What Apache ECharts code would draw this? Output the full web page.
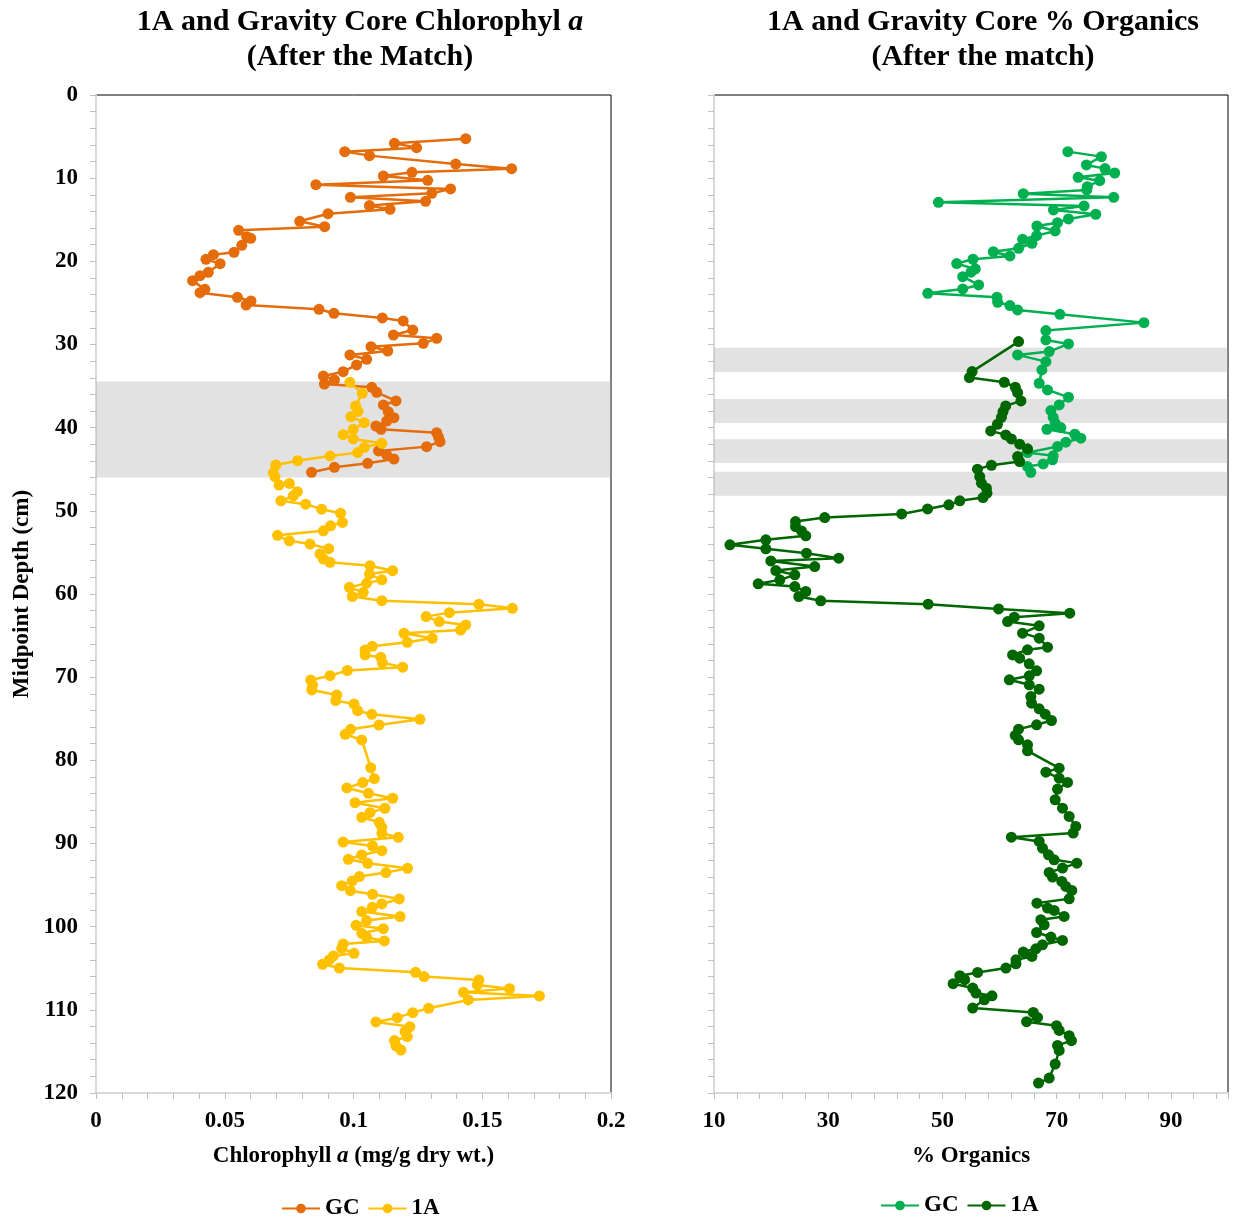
<!DOCTYPE html>
<html>
<head>
<meta charset="utf-8">
<title>1A and Gravity Core</title>
<script src="https://cdn.jsdelivr.net/npm/echarts@6/dist/echarts.min.js"></script>
<style>
  html, body { margin: 0; padding: 0; background: #fff; }
  #main { width: 1238px; height: 1222px; }
</style>
</head>
<body>
<div id="main"></div>
<script>
// ---- data ----
// left: chlorophyll a (mg/g dry wt.) vs depth (cm)
var gcChlDepth = [5.25, 5.81, 6.33, 6.81, 7.29, 8.3, 8.86, 9.3, 9.74, 10.26, 10.78, 11.3, 11.82, 12.3, 12.78, 13.3, 13.75, 14.27, 15.19, 15.83,
    16.27, 17.03, 17.23, 18.07, 18.92, 19.2, 19.76, 20.28, 21.32, 21.72, 22.32, 23.37, 23.77, 24.33, 24.77, 25.25, 25.77, 26.25, 26.81, 27.17,
    28.26, 28.86, 29.26, 29.86, 30.26, 30.78, 31.26, 31.78, 32.46, 33.27, 33.79, 34.27, 34.75, 35.15, 35.75, 36.79, 37.27, 38.08, 38.8, 39.2,
    39.8, 40.2, 40.6, 41.1, 41.68, 42.28, 42.8, 43.28, 43.77, 44.29, 44.77, 45.37];
var gcChl = [0.1436, 0.1159, 0.1245, 0.0966, 0.1062, 0.1397, 0.1614, 0.1227, 0.1116, 0.1288, 0.0854, 0.1377, 0.1304, 0.0988, 0.128, 0.1062, 0.1142, 0.0901, 0.0791, 0.0888,
    0.0554, 0.0585, 0.0601, 0.0566, 0.0536, 0.0456, 0.0427, 0.0482, 0.0436, 0.0404, 0.0375, 0.0423, 0.0404, 0.0549, 0.0602, 0.0583, 0.0866, 0.0924, 0.1112, 0.1193,
    0.123, 0.1155, 0.1323, 0.1271, 0.1068, 0.1133, 0.0986, 0.1051, 0.1012, 0.096, 0.0883, 0.0926, 0.0887, 0.1071, 0.109, 0.1165, 0.1116, 0.1135, 0.1157, 0.1129,
    0.1087, 0.1107, 0.1323, 0.133, 0.1336, 0.1284, 0.1097, 0.1129, 0.1157, 0.1055, 0.0926, 0.0837];

var a1ChlDepth = [34.55, 35.87, 37.39, 38.03, 38.68, 39.4, 40.2, 40.84, 41.36, 41.88, 42.36, 43.0, 43.4, 43.97, 44.49, 45.41, 45.9, 46.9, 46.7, 47.7,
    48.2, 48.8, 49.2, 49.8, 50.3, 51.4, 51.8, 52.4, 52.95, 53.6, 54.0, 54.55, 55.19, 55.79, 56.19, 56.6, 57.2, 57.6, 58.3, 58.7,
    59.2, 59.8, 60.3, 60.8, 61.24, 61.72, 62.24, 62.72, 63.32, 63.72, 64.33, 64.73, 65.33, 65.81, 66.29, 66.73, 67.33, 67.61, 68.25, 68.8,
    69.2, 69.82, 70.34, 70.94, 71.54, 72.14, 72.82, 73.22, 74.03, 74.47, 75.07, 75.75, 76.27, 76.87, 77.55, 80.88, 82.2, 82.68, 83.32, 83.96,
    84.56, 85.09, 85.76, 86.29, 86.85, 87.45, 88.05, 88.77, 89.26, 89.82, 90.3, 90.86, 91.38, 91.9, 92.38, 92.98, 93.5, 93.98, 94.5, 95.07,
    95.67, 96.11, 96.67, 97.27, 97.67, 98.19, 98.79, 99.27, 99.84, 100.24, 100.8, 101.28, 101.72, 102.08, 102.6, 103.2, 103.52, 104.0, 104.52, 104.97,
    105.49, 106.0, 106.4, 107.0, 107.45, 107.9, 108.33, 108.81, 109.81, 110.34, 110.94, 111.46, 112.02, 112.62, 113.22, 113.7, 114.34, 114.83];
var a1Chl = [0.0986, 0.1034, 0.1008, 0.1018, 0.099, 0.1042, 0.0999, 0.096, 0.0999, 0.111, 0.1042, 0.1016, 0.0909, 0.0783, 0.0698, 0.0689, 0.0695, 0.0711, 0.0751, 0.0782,
    0.0766, 0.0718, 0.0814, 0.0876, 0.095, 0.0957, 0.0911, 0.0883, 0.0705, 0.0751, 0.0831, 0.0904, 0.087, 0.0883, 0.0909, 0.1064, 0.1152, 0.1062, 0.111, 0.1051,
    0.0984, 0.1038, 0.0995, 0.111, 0.1487, 0.1617, 0.1372, 0.1282, 0.1333, 0.1436, 0.1416, 0.1196, 0.1306, 0.1209, 0.1073, 0.1045, 0.1045, 0.1106, 0.1112, 0.1191,
    0.0976, 0.0909, 0.0834, 0.0841, 0.0838, 0.0935, 0.0931, 0.1002, 0.1016, 0.1071, 0.1258, 0.1099, 0.0989, 0.0968, 0.1032, 0.1067, 0.1081, 0.1036, 0.0974, 0.1058,
    0.1152, 0.1006, 0.1122, 0.1064, 0.1032, 0.11, 0.111, 0.111, 0.1174, 0.096, 0.1074, 0.111, 0.1032, 0.098, 0.1055, 0.121, 0.1126, 0.1023, 0.0995, 0.0954,
    0.0988, 0.1074, 0.1178, 0.111, 0.1073, 0.1032, 0.1181, 0.1051, 0.101, 0.1116, 0.1032, 0.1051, 0.112, 0.096, 0.0954, 0.1002, 0.0922, 0.0906, 0.088, 0.0945,
    0.1241, 0.1274, 0.1487, 0.1481, 0.1606, 0.1427, 0.1722, 0.1446, 0.1292, 0.123, 0.117, 0.1087, 0.1219, 0.12, 0.1209, 0.1159, 0.1165, 0.1184];

// right: % organics vs depth (cm)
var gcOrgDepth = [6.81, 7.41, 8.41, 8.85, 9.38, 9.9, 10.3, 11.02, 11.42, 11.86, 12.3, 12.9, 13.34, 13.82, 14.34, 14.9, 15.35, 15.75, 16.35, 16.91,
    17.35, 17.83, 18.43, 18.84, 19.35, 19.75, 20.27, 20.92, 21.31, 21.84, 22.84, 23.32, 23.84, 24.32, 24.92, 25.32, 25.84, 26.37, 27.37, 28.33,
    29.45, 29.93, 30.85, 31.25, 32.06, 33.06, 34.66, 35.46, 36.34, 37.26, 37.95, 38.75, 39.47, 39.99, 40.19, 40.79, 41.27, 41.75, 42.27, 43.0,
    43.39, 43.87, 44.36, 44.68, 45.36];
var gcOrg = [71.95, 77.83, 75.21, 78.47, 80.16, 73.76, 77.54, 75.38, 75.27, 64.15, 79.99, 49.3, 74.8, 69.44, 76.85, 72.07, 70.15, 66.54, 69.74, 66.5,
    64.03, 65.67, 63.33, 58.91, 61.82, 55.36, 52.5, 55.76, 55.0, 53.55, 56.34, 53.55, 47.43, 59.55, 59.67, 61.82, 63.16, 70.56, 85.28, 68.11,
    68.11, 72.07, 68.69, 63.16, 68.11, 67.41, 66.94, 68.4, 72.07, 70.44, 68.99, 69.39, 69.74, 70.73, 68.29, 73.18, 74.23, 71.61, 70.15, 64.9,
    69.39, 69.27, 67.64, 64.9, 65.48];

var a1OrgDepth = [29.65, 33.26, 33.98, 34.54, 35.14, 35.78, 36.78, 37.38, 38.06, 38.75, 39.59, 40.39, 40.87, 41.35, 41.99, 42.55, 43.47, 44.07, 44.52, 44.99,
    45.88, 46.68, 47.28, 47.88, 48.4, 48.8, 49.28, 49.77, 50.37, 50.81, 51.29, 51.89, 52.41, 53.01, 53.49, 54.09, 54.57, 55.09, 55.69, 56.02,
    56.7, 57.18, 57.7, 58.3, 58.78, 59.1, 59.7, 60.3, 60.82, 61.22, 61.79, 62.31, 62.79, 63.31, 63.83, 64.71, 65.31, 66.39, 66.71, 67.32,
    67.72, 68.4, 69.24, 69.84, 70.32, 70.92, 71.44, 72.33, 73.13, 73.81, 74.45, 75.21, 75.73, 76.25, 77.01, 77.53, 78.13, 78.86, 80.94, 81.42,
    82.14, 82.66, 83.46, 84.74, 85.75, 86.75, 87.95, 88.75, 89.24, 89.75, 90.56, 91.36, 91.96, 92.36, 92.96, 93.48, 94.04, 94.56, 95.16, 95.64,
    96.65, 97.17, 97.77, 98.05, 98.77, 99.17, 99.77, 100.7, 101.25, 101.66, 102.18, 102.66, 103.05, 103.58, 103.98, 104.46, 104.98, 105.5, 105.9, 106.38,
    106.86, 107.38, 107.98, 108.31, 108.79, 109.79, 110.31, 110.91, 111.43, 111.91, 112.48, 113.11, 113.71, 114.28, 114.88, 116.52, 118.2, 118.8];
var a1Org = [63.33, 55.19, 54.72, 60.83, 62.75, 63.16, 63.74, 61.08, 60.61, 60.33, 59.63, 58.46, 61.08, 62.07, 63.52, 64.9, 63.16, 63.52, 58.57, 56.13,
    56.53, 56.83, 57.7, 57.8, 57.1, 53.04, 51.12, 47.4, 42.86, 29.39, 24.27, 24.27, 25.32, 26.07, 19.08, 12.79, 19.08, 26.19, 31.83, 19.95,
    27.64, 20.83, 24.15, 21.53, 17.74, 24.15, 26.07, 24.85, 28.69, 47.5, 59.83, 72.3, 62.58, 61.41, 66.94, 64.03, 66.94, 68.4, 64.9, 62.28,
    63.52, 65.2, 66.49, 65.2, 61.71, 65.2, 66.94, 65.48, 65.6, 66.94, 67.99, 69.09, 66.49, 63.33, 62.75, 63.33, 64.9, 64.9, 70.44, 68.11,
    70.44, 71.9, 70.15, 69.74, 71.02, 72.19, 73.35, 72.89, 62.07, 66.94, 67.52, 68.57, 69.56, 73.53, 71.02, 68.69, 69.27, 70.9, 71.61, 72.65,
    72.19, 66.54, 68.4, 69.56, 71.31, 67.23, 67.81, 66.49, 68.99, 71.02, 67.52, 66.36, 64.15, 65.67, 62.87, 62.87, 61.12, 56.16, 53.04, 53.9,
    51.87, 55.3, 55.88, 58.68, 57.33, 55.3, 65.9, 66.65, 64.73, 69.97, 70.44, 72.19, 72.59, 70.15, 70.44, 69.74, 68.69, 66.82];

// grey match bands (depth from / to)
var chlBandFrom = [34.45];
var chlBandTo = [46.0];
var orgBandFrom = [30.4, 36.55, 41.4, 45.3];
var orgBandTo = [33.3, 39.45, 44.25, 48.2];

// ---- helpers ----
var FONT = "'Liberation Serif', 'Times New Roman', serif";
var FS = 23;    // axis / legend text
var TFS = 30;   // titles

function pairs(xs, ys) {
    var out = [];
    for (var i = 0; i < xs.length; i++) {
        out.push([xs[i], ys[i]]);
    }
    return out;
}

function bands(from, to) {
    var out = [];
    for (var i = 0; i < from.length; i++) {
        out.push([{ yAxis: from[i] }, { yAxis: to[i] }]);
    }
    return out;
}

function lineSeries(name, color, xi, yi, data) {
    return {
        name: name,
        type: 'line',
        xAxisIndex: xi,
        yAxisIndex: yi,
        data: data,
        symbol: 'circle',
        symbolSize: 11,
        showSymbol: true,
        animation: false,
        lineStyle: { color: color, width: 2.5 },
        itemStyle: { color: color },
        z: 2
    };
}

var axisText = { color: '#000', fontFamily: FONT, fontWeight: 'bold', fontSize: FS };
var greyLine = { show: true, onZero: false, lineStyle: { color: '#d9d9d9', width: 2 } };
var greyTick = { show: true, length: 6, lineStyle: { color: '#bfbfbf', width: 1 } };

var titleRich = {
    t: { fontFamily: FONT, fontWeight: 'bold', fontSize: TFS, color: '#000', lineHeight: 35 },
    ti: { fontFamily: FONT, fontWeight: 'bold', fontStyle: 'italic', fontSize: TFS, color: '#000', lineHeight: 35 }
};

var myChart = echarts.init(document.getElementById('main'));

var option = {
    backgroundColor: '#fff',
    animation: false,
    title: [{
        text: '{t|1A and Gravity Core Chlorophyl }{ti|a}\n{t|(After the Match)}',
        left: 355, top: 0, textAlign: 'center',
        textStyle: { rich: titleRich }
    }, {
        text: '{t|1A and Gravity Core % Organics}\n{t|(After the match)}',
        left: 978, top: 0, textAlign: 'center',
        textStyle: { rich: titleRich }
    }],
    legend: [{
        data: ['GC', '1A'],
        left: 276, top: 1192,
        itemWidth: 38, itemHeight: 12, itemGap: 8,
        textStyle: axisText
    }, {
        data: ['GC (org)', '1A (org)'],
        left: 875, top: 1189,
        itemWidth: 38, itemHeight: 12, itemGap: 8,
        textStyle: axisText,
        formatter: function (name) { return name.split(' ')[0]; }
    }],
    grid: [{
        left: 96, right: 627, top: 95, bottom: 129,
        show: true, borderColor: '#000', borderWidth: 1, backgroundColor: '#fff'
    }, {
        left: 714, right: 10, top: 95, bottom: 129,
        show: true, borderColor: '#000', borderWidth: 1, backgroundColor: '#fff'
    }],
    xAxis: [{
        gridIndex: 0, type: 'value', position: 'bottom',
        min: 0, max: 0.2, interval: 0.01,
        name: '{n|Chlorophyll }{ni|a}{n| (mg/g dry wt.)}', nameLocation: 'middle', nameGap: 52,
        nameTextStyle: {
            rich: {
                n: { fontFamily: FONT, fontWeight: 'bold', fontSize: FS, color: '#000' },
                ni: { fontFamily: FONT, fontWeight: 'bold', fontStyle: 'italic', fontSize: FS, color: '#000' }
            }
        },
        axisLine: greyLine, axisTick: greyTick, splitLine: { show: false },
        axisLabel: {
            margin: 17, color: '#000', fontFamily: FONT, fontWeight: 'bold', fontSize: FS,
            formatter: function (v) {
                return Math.abs(v * 20 - Math.round(v * 20)) < 1e-6 ? String(+v.toFixed(2)) : '';
            }
        }
    }, {
        gridIndex: 1, type: 'value', position: 'bottom',
        min: 10, max: 100, interval: 10,
        name: '% Organics', nameLocation: 'middle', nameGap: 52,
        nameTextStyle: axisText,
        axisLine: greyLine, axisTick: { show: false }, splitLine: { show: false },
        axisLabel: {
            margin: 17, color: '#000', fontFamily: FONT, fontWeight: 'bold', fontSize: FS,
            formatter: function (v) { return (v - 10) % 20 === 0 ? v : ''; }
        }
    }, {
        // tick marks of the organics axis: every 4 % starting at 10 %
        gridIndex: 1, type: 'value', position: 'bottom',
        min: 0, max: 90, interval: 4,
        axisLine: { show: false, onZero: false }, axisTick: greyTick,
        axisLabel: { show: false }, splitLine: { show: false }
    }],
    yAxis: [{
        gridIndex: 0, type: 'value', inverse: true,
        min: 0, max: 120, interval: 2,
        name: 'Midpoint Depth (cm)', nameLocation: 'middle', nameGap: 62, nameRotate: 90,
        nameTextStyle: axisText,
        axisLine: greyLine, axisTick: greyTick, splitLine: { show: false },
        axisLabel: {
            margin: 18, color: '#000', fontFamily: FONT, fontWeight: 'bold', fontSize: FS,
            formatter: function (v) { return v % 10 === 0 ? v : ''; }
        }
    }, {
        gridIndex: 1, type: 'value', inverse: true,
        min: 0, max: 120, interval: 2,
        axisLine: greyLine, axisTick: greyTick, splitLine: { show: false },
        axisLabel: { show: false }
    }],
    series: [
        lineSeries('GC', '#E46C0A', 0, 0, pairs(gcChl, gcChlDepth)),
        lineSeries('1A', '#FFC000', 0, 0, pairs(a1Chl, a1ChlDepth)),
        lineSeries('GC (org)', '#00B050', 1, 1, pairs(gcOrg, gcOrgDepth)),
        lineSeries('1A (org)', '#006600', 1, 1, pairs(a1Org, a1OrgDepth)),
        // translucent grey bands sit over the lines, as in the original
        {
            name: 'bandChl', type: 'line', xAxisIndex: 0, yAxisIndex: 0, data: [], z: 5,
            markArea: { silent: true, itemStyle: { color: 'rgba(166,166,166,0.33)' }, data: bands(chlBandFrom, chlBandTo) }
        },
        {
            name: 'bandOrg', type: 'line', xAxisIndex: 1, yAxisIndex: 1, data: [], z: 5,
            markArea: { silent: true, itemStyle: { color: 'rgba(166,166,166,0.33)' }, data: bands(orgBandFrom, orgBandTo) }
        }
    ]
};

myChart.setOption(option);
window.onresize = myChart.resize;
</script>
</body>
</html>
